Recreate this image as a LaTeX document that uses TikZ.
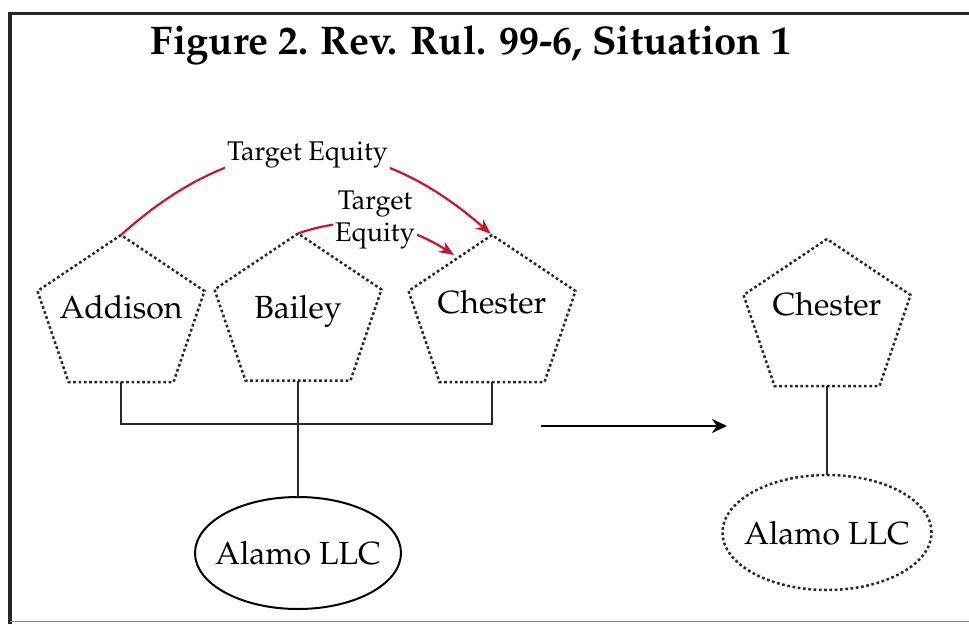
\documentclass[tikz,border=0pt]{standalone}
\usepackage[T1]{fontenc}
\usepackage{mathpazo}
\usetikzlibrary{shapes.geometric,arrows.meta,calc}
\definecolor{tered}{RGB}{200,22,45}
\definecolor{lineg}{RGB}{40,40,40}
\newcommand\drawpent[1]{%
  \draw[dotline] (#1.north) -- ($(#1.north west)!0.381!(#1.south west)$)
    -- ($(#1.south)+(-52.5,0)$) -- ($(#1.south)+(52.5,0)$)
    -- ($(#1.north east)!0.381!(#1.south east)$) -- cycle;}
\begin{document}
\begin{tikzpicture}[x=1pt,y=-1pt,
  pent/.style={rectangle, minimum width=167pt, minimum height=147pt, inner sep=0pt, outer sep=0pt,
    font=\fontsize{32}{38}\selectfont, text depth=0pt},
  dotline/.style={draw=lineg, line width=2.5pt, dash pattern=on 2.7pt off 2.6pt},
  conn/.style={draw=lineg, line width=2.3pt},
  redarrow/.style={draw=tered, line width=2.2pt, -{Stealth[length=15pt,width=12pt]}},
  blackarrow/.style={draw=black, line width=2.4pt, -{Stealth[length=15pt,width=14pt]}},
  llc/.style={ellipse, inner sep=0pt, outer sep=0pt},
  llctext/.style={font=\fontsize{32}{38}\selectfont, text depth=0pt},
  eqlabel/.style={fill=white, inner sep=2pt, font=\fontsize{27}{31.5}\selectfont, align=center}]
\useasboundingbox (0,0) rectangle (969,624);
% frame
\draw[line width=3.5pt, black!85] (10,624) -- (10,13.5) -- (969,13.5);
\draw[line width=1.5pt, black!45] (10,621.5) -- (969,621.5);
% title
\node[font=\bfseries\fontsize{40}{48}\selectfont] (title) at (471,45) {Figure 2. Rev. Rul. 99-6, Situation 1};
% pentagons
\node[pent, text depth=4pt] (addison) at (121,308.5) {Addison};
\node[pent] (bailey) at (298,307) {Bailey};
\node[pent, text depth=14pt] (chester) at (492,308.5) {Chester};
\node[pent, text depth=18pt] (chester2) at (827,312.5) {Chester};
\drawpent{addison}
\drawpent{bailey}
\drawpent{chester}
\drawpent{chester2}
% ellipses
\node[llc, draw=black, line width=2pt, minimum width=206pt, minimum height=112pt,
  label={[llctext]center:Alamo LLC}] (alamo) at (298,553) {};
\node[llc, dotline, minimum width=209pt, minimum height=115pt,
  label={[llctext]center:Alamo LLC}] (alamo2) at (827,532.5) {};
% connectors
\draw[conn] (addison.south) -- ++(0,42) -| (chester.south);
\draw[conn] (bailey.south) -- (alamo.north);
\draw[conn] (chester2.south) -- (alamo2.north);
\coordinate (arrS) at (541,426);
\coordinate (arrE) at (727,426);
\draw[blackarrow] (arrS) -- (arrE);
% red transfer arrows
\coordinate (chesterhit) at (454,255);
\draw[redarrow, shorten >=2pt] (addison.north) .. controls +(123,-111) and +(-124,-109) .. (chester.north);
\draw[redarrow] (bailey.north) .. controls +(53,-19) and +(-51,-33) .. (chesterhit);
\node[eqlabel] (te1) at (307.5,155) {Target Equity};
\node[eqlabel] (te2) at (375,220) {Target\\Equity};
\end{tikzpicture}
\end{document}
